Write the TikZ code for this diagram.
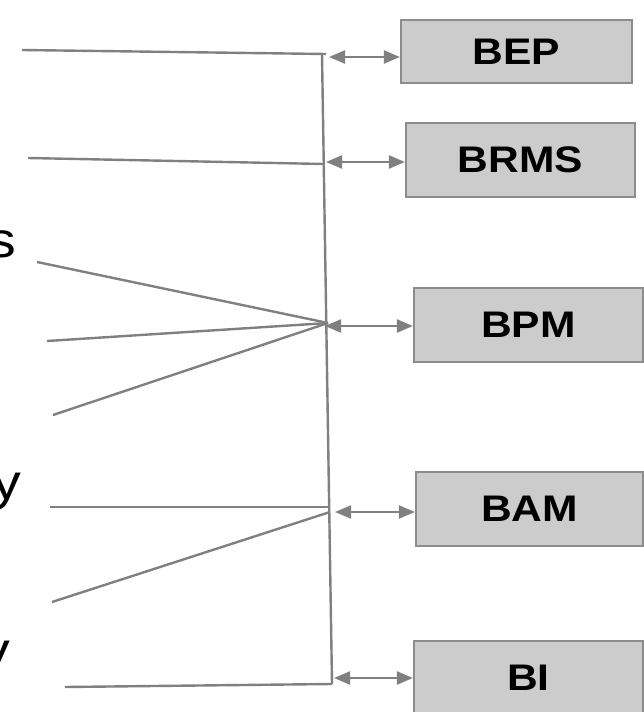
\documentclass[tikz,border=0pt]{standalone}
\usepackage{fontspec}
\setmainfont{Liberation Sans}
\usetikzlibrary{arrows.meta}
\definecolor{ln}{HTML}{808080}
\definecolor{bx}{HTML}{CCCCCC}
\definecolor{bxd}{HTML}{8C8C8C}
\tikzset{
  box/.style={draw=bxd, line width=2.2pt, fill=bx, inner sep=0pt, font=\fontsize{37}{40}\selectfont\bfseries},
  wire/.style={draw=ln, line width=2.4pt},
  dbl/.style={draw=ln, line width=2.2pt, {Triangle[length=16pt,width=13pt]}-{Triangle[length=16pt,width=13pt]}},
  lbl/.style={inner sep=0pt, font=\fontsize{50}{55}\selectfont}
}
\begin{document}
\begin{tikzpicture}[x=1pt,y=-1pt]
\useasboundingbox (0,0) rectangle (644,712);
% boxes
\node[box, minimum width=231pt, minimum height=63pt] (bep) at (516.5,51.5) {\scalebox{1.15}[1]{BEP}};
\node[box, minimum width=229pt, minimum height=74pt] (brms) at (520.5,160) {\scalebox{1.15}[1]{BRMS}};
\node[box, minimum width=229pt, minimum height=74pt] (bpm) at (528.5,325) {\scalebox{1.15}[1]{BPM}};
\node[box, minimum width=227pt, minimum height=74pt] (bam) at (529.5,509) {\scalebox{1.15}[1]{BAM}};
\node[box, minimum width=229pt, minimum height=74pt] (bi) at (528.5,678) {\scalebox{1.15}[1]{BI}};
% partial labels at left edge
\node[lbl, anchor=base east] (ts) at (16,257) {\scalebox{1.15}[1]{s}};
\node[lbl, anchor=base east] (ty1) at (21,499) {\scalebox{1.15}[1]{y}};
\node[lbl, anchor=base east] (ty2) at (10,667) {\scalebox{1.15}[1]{y}};
% coordinates
\coordinate (vtop) at (322,54);
\coordinate (vbot) at (332,684);
\coordinate (s1) at (22,50);
\coordinate (e1) at (326,54);
\coordinate (s2) at (28,158);
\coordinate (e2) at (324,164);
\coordinate (hub) at (328,323);
\coordinate (f1) at (37,262);
\coordinate (f2) at (47,341);
\coordinate (f3) at (53,415);
\coordinate (s4) at (50,507);
\coordinate (e4) at (328,507);
\coordinate (s5) at (52,602);
\coordinate (e5) at (330,512);
\coordinate (s6) at (65,687);
\coordinate (a1) at (329,57);
\coordinate (a2) at (326,162);
\coordinate (a3) at (325,326);
\coordinate (a4) at (335,512);
\coordinate (a5) at (334,678);
% wires
\draw[wire] (vtop) -- (vbot);
\draw[wire] (s1) -- (e1);
\draw[wire] (s2) -- (e2);
\draw[wire] (f1) -- (hub);
\draw[wire] (f2) -- (hub);
\draw[wire] (f3) -- (hub);
\draw[wire] (s4) -- (e4);
\draw[wire] (s5) -- (e5);
\draw[wire] (s6) -- (vbot);
% arrows
\draw[dbl] (a1) -- (a1 -| bep.west);
\draw[dbl] (a2) -- (a2 -| brms.west);
\draw[dbl] (a3) -- (a3 -| bpm.west);
\draw[dbl] (a4) -- (a4 -| bam.west);
\draw[dbl] (a5) -- (a5 -| bi.west);
\end{tikzpicture}
\end{document}
